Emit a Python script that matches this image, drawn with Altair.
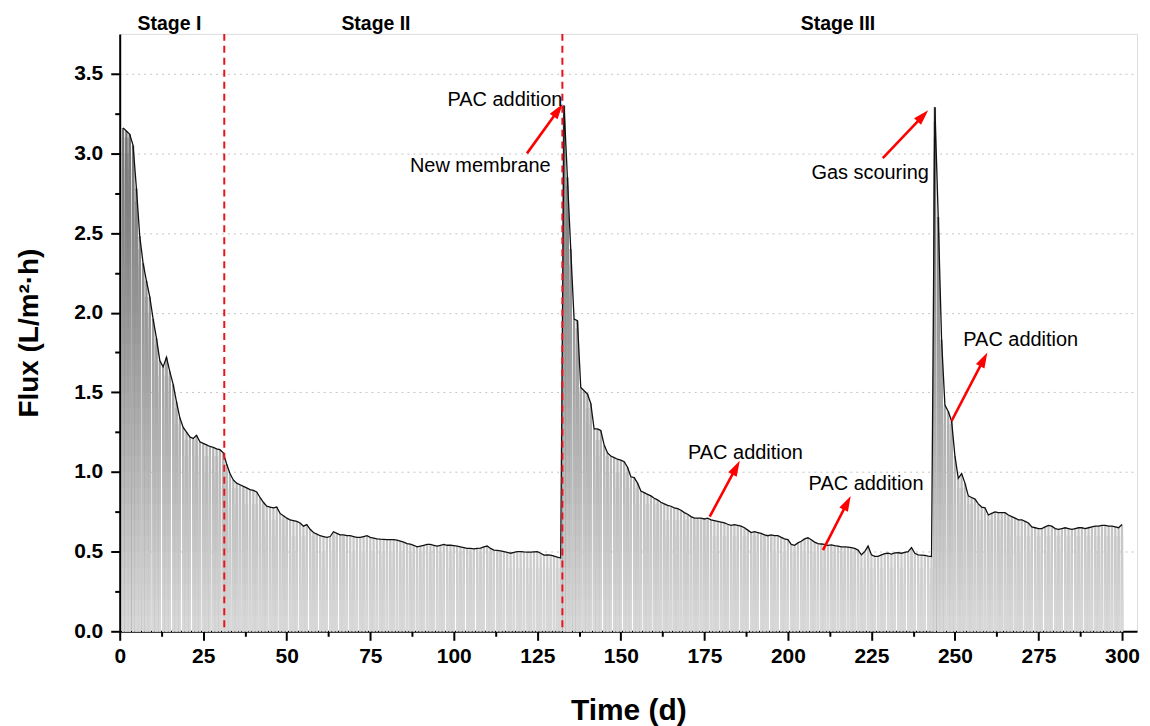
import math
import altair as alt
import pandas as pd

# ---------------- data ----------------
flux = [
    3.16, 3.14, 3.12, 3.05, 2.78, 2.48, 2.31, 2.20, 2.10, 1.96,
    1.84, 1.70, 1.66, 1.72, 1.63, 1.55, 1.44, 1.34, 1.28, 1.25,
    1.22, 1.21, 1.23, 1.19, 1.18, 1.17, 1.16, 1.155, 1.145, 1.14,
    1.12, 1.05, 0.99, 0.95, 0.93, 0.92, 0.91, 0.90, 0.89, 0.885,
    0.875, 0.84, 0.81, 0.785, 0.78, 0.775, 0.78, 0.74, 0.725, 0.71,
    0.70, 0.695, 0.69, 0.68, 0.66, 0.67, 0.64, 0.62, 0.61, 0.60,
    0.595, 0.59, 0.595, 0.625, 0.615, 0.605, 0.605, 0.60, 0.60, 0.595,
    0.59, 0.59, 0.595, 0.60, 0.59, 0.585, 0.58, 0.578, 0.577, 0.576,
    0.576, 0.575, 0.572, 0.566, 0.56, 0.55, 0.547, 0.54, 0.53, 0.535,
    0.54, 0.545, 0.545, 0.54, 0.535, 0.54, 0.545, 0.54, 0.54, 0.538,
    0.535, 0.53, 0.525, 0.52, 0.52, 0.518, 0.52, 0.522, 0.53, 0.535,
    0.52, 0.51, 0.508, 0.505, 0.50, 0.495, 0.49, 0.495, 0.50, 0.50,
    0.498, 0.497, 0.497, 0.499, 0.50, 0.49, 0.478, 0.48, 0.478, 0.472,
    0.465, 0.46, 3.30, 2.85, 2.40, 1.96, 1.95, 1.53, 1.51, 1.49,
    1.43, 1.27, 1.27, 1.26, 1.17, 1.12, 1.10, 1.09, 1.08, 1.075,
    1.065, 1.03, 0.97, 0.965, 0.93, 0.88, 0.87, 0.86, 0.85, 0.835,
    0.825, 0.81, 0.80, 0.79, 0.785, 0.775, 0.77, 0.76, 0.745, 0.735,
    0.72, 0.71, 0.71, 0.71, 0.705, 0.71, 0.70, 0.695, 0.69, 0.685,
    0.68, 0.672, 0.665, 0.67, 0.665, 0.66, 0.65, 0.635, 0.62, 0.625,
    0.62, 0.615, 0.605, 0.60, 0.605, 0.60, 0.60, 0.59, 0.58, 0.576,
    0.545, 0.54, 0.555, 0.565, 0.58, 0.587, 0.575, 0.56, 0.55, 0.548,
    0.545, 0.54, 0.542, 0.538, 0.535, 0.53, 0.53, 0.528, 0.525, 0.52,
    0.51, 0.48, 0.50, 0.535, 0.48, 0.47, 0.47, 0.48, 0.488, 0.49,
    0.485, 0.492, 0.493, 0.49, 0.495, 0.50, 0.525, 0.49, 0.48, 0.478,
    0.476, 0.472, 0.47, 3.29, 2.60, 1.83, 1.42, 1.38, 1.32, 1.10,
    0.96, 0.99, 0.93, 0.85, 0.84, 0.83, 0.80, 0.78, 0.775, 0.73,
    0.74, 0.75, 0.745, 0.745, 0.745, 0.73, 0.72, 0.71, 0.70, 0.70,
    0.69, 0.68, 0.655, 0.65, 0.645, 0.645, 0.655, 0.665, 0.66, 0.645,
    0.64, 0.645, 0.65, 0.645, 0.64, 0.645, 0.65, 0.65, 0.645, 0.65,
    0.655, 0.66, 0.66, 0.665, 0.665, 0.66, 0.66, 0.655, 0.65, 0.67,
]
days = list(range(1, len(flux) + 1))

stage_names = ["Stage I", "Stage II", "Stage III"]
stage_label_day = [14.9, 76.7, 215.0]
stage_boundaries = [31.3, 132.5]

note_text = ["PAC addition", "New membrane", "Gas scouring",
             "PAC addition", "PAC addition", "PAC addition"]
note_day = [132.5, 129.0, 242.2, 252.5, 170.1, 206.2]
note_flux = [3.30, 2.88, 2.84, 1.79, 1.08, 0.89]
note_align = ["right", "right", "right", "left", "left", "left"]

arrow_tail_day = [121.9, 228.4, 249.0, 176.6, 210.5]
arrow_tail_flux = [3.00, 2.97, 1.32, 0.72, 0.51]
arrow_tip_day = [132.6, 242.0, 259.7, 185.6, 218.8]
arrow_tip_flux = [3.31, 3.27, 1.75, 1.07, 0.85]

x_ticks = [i * 12.5 for i in range(25)]
y_ticks = [i * 0.25 for i in range(15)]

# ---------------- layout ----------------
W, H = 1020, 599
XMAX, YMAX = 304.5, 3.75
PX_DAY = W / XMAX
PX_UNIT = H / YMAX
FONT = "Liberation Sans"

# ---------------- tables ----------------
STEP = 0.1
rows = []
for d, v in zip(days, flux):
    n = int(math.ceil(v / STEP - 1e-9))
    for k in range(n):
        rows.append({"day": d, "top": min(v, (k + 1) * STEP), "lev": (k + 0.5) * STEP, "k": k})
bars = pd.DataFrame(rows).sort_values("k", ascending=False, kind="stable")
series = pd.DataFrame({"day": days, "flux": flux})

arr = []
for td, tf, hd, hf in zip(arrow_tail_day, arrow_tail_flux, arrow_tip_day, arrow_tip_flux):
    dx = (hd - td) * PX_DAY
    dy = (hf - tf) * PX_UNIT
    L = math.hypot(dx, dy)
    back = 9.0
    ed = hd - dx / L * back / PX_DAY
    ef = hf - dy / L * back / PX_UNIT
    ang = math.degrees(math.atan2(dx, dy)) % 360
    arr.append({"td": td, "tf": tf, "ed": ed, "ef": ef, "hd": hd, "hf": hf, "ang": ang})
arrows = pd.DataFrame(arr)

notes = pd.DataFrame({"t": note_text, "day": note_day, "flux": note_flux, "al": note_align})
stages = pd.DataFrame({"t": stage_names, "day": stage_label_day})
bounds = pd.DataFrame({"day": stage_boundaries})

# ---------------- scales & axes ----------------
xs = alt.Scale(domain=[0, XMAX], nice=False, zero=False, padding=0)
ys = alt.Scale(domain=[0, YMAX], nice=False, padding=0)

xaxis = alt.Axis(
    title="Time (d)", values=x_ticks,
    labelExpr="datum.value % 25 == 0 ? format(datum.value, 'd') : ''",
    tickSize={"condition": {"test": "datum.value % 25 != 0", "value": 5}, "value": 9},
    tickWidth=2, tickColor="black", domainColor="black", domainWidth=2,
    labelFont=FONT, labelFontWeight="bold", labelFontSize=21, labelColor="black",
    labelPadding=5, labelOverlap=False, labelFlush=False, grid=False,
    titleFont=FONT, titleFontSize=30, titleFontWeight="bold", titleColor="black",
    titleY=88, titleBaseline="alphabetic",
)
yaxis = alt.Axis(
    title="Flux (L/m²·h)", values=y_ticks,
    labelExpr="(datum.value * 2) % 1 == 0 ? format(datum.value, '.1f') : ''",
    tickSize={"condition": {"test": "(datum.value * 2) % 1 != 0", "value": 5}, "value": 9},
    tickWidth=2, tickColor="black", domainColor="black", domainWidth=2,
    labelFont=FONT, labelFontWeight="bold", labelFontSize=21, labelColor="black",
    labelPadding=8, labelOverlap=False, labelFlush=False,
    grid=True, gridColor="#c4c4c4", gridDash=[2, 4], gridWidth=1,
    gridOpacity={"condition": {"test": "(datum.value * 2) % 1 != 0 || datum.value == 0", "value": 0}, "value": 1},
    titleFont=FONT, titleFontSize=28, titleFontWeight="bold", titleColor="black",
    titleX=-90, titleY=H / 2, titleAngle=270, titleAlign="center", titleBaseline="middle",
)

X = lambda f: alt.X(f, type="quantitative", scale=xs, axis=xaxis)
Y = lambda f: alt.Y(f, type="quantitative", scale=ys, axis=yaxis, stack=None)

bar_layer = alt.Chart(bars).mark_bar(width=2.3).encode(
    x=X("day"), y=Y("top"),
    color=alt.Color("lev:Q", scale=alt.Scale(domain=[0, 3.4], range=["#dadada", "#6c6c6c"]), legend=None),
)
line_layer = alt.Chart(series).mark_line(color="#111111", strokeWidth=1.3).encode(x=X("day"), y=Y("flux"))
bound_layer = alt.Chart(bounds).mark_rule(color="#e8141c", strokeWidth=2, strokeDash=[7, 5]).encode(x=X("day"))
shaft_layer = alt.Chart(arrows).mark_rule(color="#ff0000", strokeWidth=2.6).encode(
    x=X("td"), y=Y("tf"), x2="ed", y2="ef")
head_layer = alt.Chart(arrows).mark_point(
    shape="M0,0L0.62,2L-0.62,2Z", filled=True, size=240, color="#ff0000", opacity=1, strokeWidth=0
).encode(x=X("hd"), y=Y("hf"), angle=alt.Angle("ang:Q", scale=None))
note_r = alt.Chart(notes).transform_filter("datum.al == 'right'").mark_text(
    align="right", baseline="alphabetic", font=FONT, fontSize=20, color="black"
).encode(x=X("day"), y=Y("flux"), text="t:N")
note_l = alt.Chart(notes).transform_filter("datum.al == 'left'").mark_text(
    align="left", baseline="alphabetic", font=FONT, fontSize=20, color="black"
).encode(x=X("day"), y=Y("flux"), text="t:N")
stage_layer = alt.Chart(stages).mark_text(
    align="center", baseline="alphabetic", font=FONT, fontSize=19.5, fontWeight="bold", color="black"
).encode(x=X("day"), y=alt.value(-4), text="t:N")

chart = alt.layer(
    bar_layer, line_layer, bound_layer, shaft_layer, head_layer, note_r, note_l, stage_layer
).properties(
    width=W, height=H,
    autosize=alt.AutoSizeParams(type="none"),
    padding={"left": 112, "top": 25, "right": 5, "bottom": 94},
).configure_view(stroke="black", strokeWidth=2).configure(background="white")

chart.save("out.html", embed_options={"renderer": "svg", "actions": False})
